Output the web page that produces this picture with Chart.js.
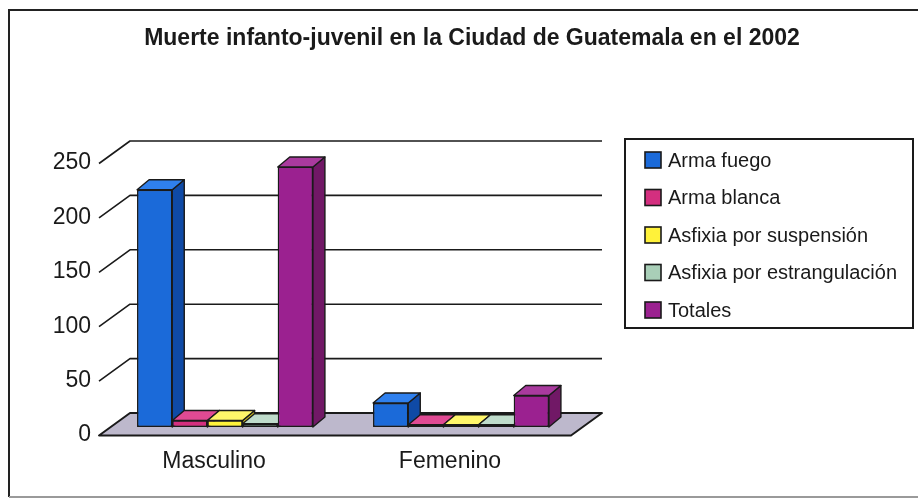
<!DOCTYPE html>
<html><head><meta charset="utf-8">
<script src="https://cdn.jsdelivr.net/npm/chart.js@4"></script>
<style>html,body{margin:0;padding:0;background:#fff}#wrap{width:918px;height:500px}</style>
</head><body><div id="wrap"><canvas id="c" width="918" height="500"></canvas></div>
<script>
const titleText = 'Muerte infanto-juvenil en la Ciudad de Guatemala en el 2002';
const categories = ['Masculino', 'Femenino'];
const seriesNames = ['Arma fuego', 'Arma blanca', 'Asfixia por suspensión', 'Asfixia por estrangulación', 'Totales'];
const armaFuego = [218, 22];
const armaBlanca = [6, 2];
const asfixiaSuspension = [6, 2];
const asfixiaEstrangulacion = [3, 2];
const totales = [239, 29];
const yTicks = [0, 50, 100, 150, 200, 250];

const seriesValues = [armaFuego, armaBlanca, asfixiaSuspension, asfixiaEstrangulacion, totales];
const frontColors = ['#1b6ad9', '#d42f7f', '#fff23a', '#a9cfb8', '#9b2190'];
const topColors   = ['#2f80ee', '#e04a93', '#fff66a', '#bfdccb', '#a93a9e'];
const sideColors  = ['#0f4aa6', '#a8205f', '#cbbc22', '#86a896', '#711866'];

const FONT = '"Liberation Sans", Arial, Helvetica, sans-serif';
const INK = '#1a1a1a';
const BAR_D = {dx: 12, dy: -10};
const FRONT = {dx: -8, dy: 8.5};
const BACK = {dx: 23, dy: -14};

const threeD = {
  id: 'threeD',
  beforeDatasetsDraw(chart) {
    const ctx = chart.ctx, a = chart.chartArea, ys = chart.scales.y;
    const L = a.left, R = a.right, B = ys.getPixelForValue(0);
    ctx.save();
    ctx.beginPath();
    ctx.moveTo(L + FRONT.dx, B + FRONT.dy);
    ctx.lineTo(R + FRONT.dx, B + FRONT.dy);
    ctx.lineTo(R + BACK.dx, B + BACK.dy);
    ctx.lineTo(L + BACK.dx, B + BACK.dy);
    ctx.closePath();
    ctx.fillStyle = '#bdb8cc';
    ctx.fill();
    ctx.strokeStyle = INK; ctx.lineWidth = 2; ctx.lineJoin = 'round';
    ctx.stroke();
    ctx.lineWidth = 1.6;
    yTicks.forEach(v => {
      if (v === 0) return;
      const yp = ys.getPixelForValue(v);
      ctx.beginPath();
      ctx.moveTo(L + FRONT.dx, yp + FRONT.dy);
      ctx.lineTo(L + BACK.dx, yp + BACK.dy);
      ctx.lineTo(R + BACK.dx, yp + BACK.dy);
      ctx.stroke();
    });
    ctx.restore();
  },
  afterDatasetsDraw(chart) {
    const ctx = chart.ctx;
    // redraw every bar left-to-right so that nearer (right) faces overlap correctly
    chart.data.datasets.forEach((ds, i) => {
      const meta = chart.getDatasetMeta(i);
      meta.data.forEach(el => {
        el.draw(ctx);
        const p = el.getProps(['x', 'y', 'base', 'width'], true);
        const l = p.x - p.width / 2, r = p.x + p.width / 2, t = Math.min(p.y, p.base), b = Math.max(p.y, p.base);
        ctx.save();
        ctx.strokeStyle = INK; ctx.lineWidth = 1.4; ctx.lineJoin = 'round';
        ctx.beginPath();
        ctx.moveTo(r, t); ctx.lineTo(r + BAR_D.dx, t + BAR_D.dy);
        ctx.lineTo(r + BAR_D.dx, b + BAR_D.dy); ctx.lineTo(r, b); ctx.closePath();
        ctx.fillStyle = sideColors[i]; ctx.fill(); ctx.stroke();
        ctx.beginPath();
        ctx.moveTo(l, t); ctx.lineTo(l + BAR_D.dx, t + BAR_D.dy);
        ctx.lineTo(r + BAR_D.dx, t + BAR_D.dy); ctx.lineTo(r, t); ctx.closePath();
        ctx.fillStyle = topColors[i]; ctx.fill(); ctx.stroke();
        ctx.restore();
      });
    });
  },
  afterDraw(chart) {
    const ctx = chart.ctx;
    ctx.save();
    ctx.strokeStyle = '#222'; ctx.lineWidth = 2;
    ctx.beginPath(); ctx.moveTo(920, 10); ctx.lineTo(9, 10); ctx.lineTo(9, 497); ctx.stroke();
    ctx.strokeStyle = '#9a9a9a'; ctx.lineWidth = 2;
    ctx.beginPath(); ctx.moveTo(9, 497); ctx.lineTo(920, 497); ctx.stroke();
    ctx.fillStyle = INK;
    ctx.font = 'bold 23px ' + FONT;
    ctx.textAlign = 'center'; ctx.textBaseline = 'middle';
    ctx.fillText(titleText, 472, 39);
    ctx.strokeStyle = INK; ctx.lineWidth = 2;
    ctx.strokeRect(625, 139, 288, 189);
    ctx.font = '20px ' + FONT;
    ctx.textAlign = 'left';
    chart.data.datasets.forEach((ds, k) => {
      const cy = 160 + k * 37.5;
      ctx.fillStyle = ds.backgroundColor;
      ctx.fillRect(645, cy - 8, 16, 16);
      ctx.lineWidth = 1.6;
      ctx.strokeRect(645, cy - 8, 16, 16);
      ctx.fillStyle = INK;
      ctx.fillText(ds.label, 668, cy + 1);
    });
    ctx.restore();
  }
};

Chart.defaults.font.family = FONT;
Chart.defaults.color = INK;

new Chart(document.getElementById('c'), {
  type: 'bar',
  data: {
    labels: categories,
    datasets: seriesNames.map((name, i) => ({
      label: name,
      data: seriesValues[i],
      backgroundColor: frontColors[i],
      borderColor: INK,
      borderWidth: 1.4,
      borderSkipped: false,
      categoryPercentage: 0.745,
      barPercentage: 1.0
    }))
  },
  options: {
    responsive: false,
    animation: false,
    devicePixelRatio: 1,
    layout: {padding: {top: 155, right: 339, bottom: 23, left: 0}},
    plugins: {legend: {display: false}, title: {display: false}, tooltip: {enabled: false}},
    scales: {
      x: {
        grid: {display: false, drawTicks: false},
        border: {display: false},
        ticks: {font: {size: 23}, color: INK, padding: 21, labelOffset: -11},
        afterFit(s) { s.height = 50; }
      },
      y: {
        min: 0, max: 250,
        grid: {display: false, drawTicks: false},
        border: {display: false},
        ticks: {stepSize: 50, font: {size: 23}, color: INK, padding: 16, labelOffset: 8},
        afterFit(s) { s.width = 107; }
      }
    }
  },
  plugins: [threeD]
});
</script>
</body></html>
